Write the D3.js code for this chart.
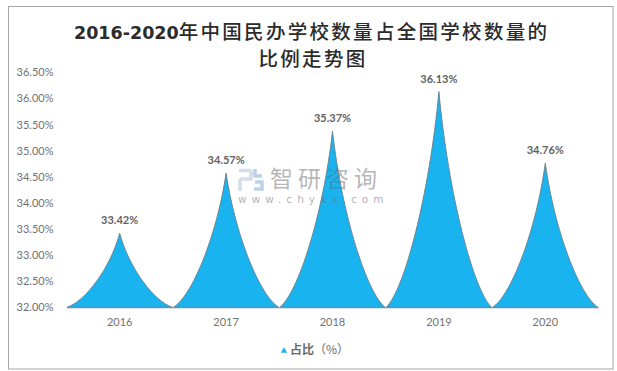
<!DOCTYPE html>
<html><head><meta charset="utf-8">
<script src="https://cdnjs.cloudflare.com/ajax/libs/d3/7.8.5/d3.min.js"></script>
<style>html,body{margin:0;padding:0;background:#fff}svg{display:block}</style>
</head><body><svg id="c" width="617" height="371"></svg>
<script>
const years=["2016","2017","2018","2019","2020"];
const shares=[33.42,34.57,35.37,36.13,34.76];
const yTicks=[32,32.5,33,33.5,34,34.5,35,35.5,36,36.5];
const titleYears="2016-2020";
const titleRest="年中国民办学校数量占全国学校数量的";
const titleLine2="比例走势图";
const legendLabel="占比";
const legendUnit="（%）";
const svg=d3.select("#c");
const latin="Lato,'Noto Sans CJK SC',sans-serif";
svg.append("rect").attr("x",8.5).attr("y",6.5).attr("width",604.5).attr("height",362.5).attr("fill","#fff").attr("stroke","#a6a6a6").attr("stroke-width",1);
const x=d3.scaleBand().domain(years).range([66.5,598.5]).padding(0);
const y=d3.scaleLinear().domain([32,36.5]).range([307.3,72.3]);
// axes
const ax=svg.append("g").attr("transform","translate(0,307.3)").call(d3.axisBottom(x).tickSize(0).tickPadding(11));
ax.select(".domain").attr("stroke","#c4c4c4").attr("stroke-width",1.5);
ax.selectAll("text").attr("font-family",latin).attr("font-size",11).attr("fill","#727272");
const ay=svg.append("g").attr("transform","translate(53.5,0)").call(d3.axisLeft(y).tickValues(yTicks).tickSize(0).tickPadding(0).tickFormat(d=>d.toFixed(2)+"%"));
ay.select(".domain").remove();
ay.selectAll("text").attr("font-family",latin).attr("font-size",11).attr("fill","#727272");
// peaks
const peak=(d,i)=>{
 const p=d3.path(),x0=x(d),w=x.bandwidth(),x1=x0+w,hw=w/2,cx=x0+hw,b=y(32),t=y(shares[i]),h=b-t;
 p.moveTo(x0+.5,b);
 p.bezierCurveTo(cx-hw*.65,b-h*.08,cx-hw*.18,b-h*.52,cx,t);
 p.bezierCurveTo(cx+hw*.18,b-h*.52,cx+hw*.65,b-h*.08,x1-.5,b);
 p.closePath();return p.toString();
};
svg.append("g").selectAll("path").data(years).join("path").attr("d",peak)
 .attr("fill","#19b3f0").attr("stroke","#6e7f88").attr("stroke-width",.9);
// labels
svg.append("g").selectAll("text").data(years).join("text")
 .attr("x",d=>x(d)+x.bandwidth()/2).attr("y",(d,i)=>y(shares[i])-9)
 .attr("text-anchor","middle").attr("font-family",latin).attr("font-size",11).attr("font-weight",700).attr("fill","#626262")
 .text((d,i)=>shares[i].toFixed(2)+"%");
// title
const tg=svg.append("g").attr("fill","#2b2b2b");
const t1=tg.append("text").attr("x",74).attr("y",39);
t1.append("tspan").attr("font-family","'DejaVu Sans'").attr("font-weight",700).attr("font-size",17.5).text(titleYears);
t1.append("tspan").attr("font-family","'Noto Sans CJK SC'").attr("font-weight",500).attr("font-size",19.5).attr("letter-spacing",2.3).text(titleRest);
tg.append("text").attr("x",258.5).attr("y",66).attr("font-family","'Noto Sans CJK SC'").attr("font-weight",500).attr("font-size",19.5).attr("letter-spacing",2.3).text(titleLine2);
// legend
svg.append("path").attr("d",d3.symbol(d3.symbolTriangle,18)()).attr("transform","translate(284,351)").attr("fill","#19b3f0");
const lt=svg.append("text").attr("x",290).attr("y",354).attr("font-family","'Noto Sans CJK SC'").attr("font-size",12).attr("fill","#6a6a6a");
lt.append("tspan").attr("font-weight",700).text(legendLabel);
lt.append("tspan").text(legendUnit);
// watermark, laid over the marks
const wm=svg.append("g").attr("pointer-events","none");
wm.append("text").attr("x",270).attr("y",187).attr("font-family","'Noto Sans CJK SC'").attr("font-size",23).attr("letter-spacing",5).attr("fill","#6e6e6e").attr("fill-opacity",.5).text("智研咨询");
wm.append("text").attr("x",238).attr("y",203).attr("font-family","'DejaVu Sans'").attr("font-size",10.5).attr("letter-spacing",5.05).attr("fill","#6e6e6e").attr("fill-opacity",.55).text("www.chyxx.com");
const logo=wm.append("g").attr("fill","none").attr("stroke-width",3.6);
logo.append("path").attr("d","M239 170.5H251M240 179H251V170.5M240 179V191").attr("stroke","#d3deec");
logo.append("path").attr("d","M255 169V176H262M255 182H262V189H254").attr("stroke","#bcd2e8");
</script></body></html>
